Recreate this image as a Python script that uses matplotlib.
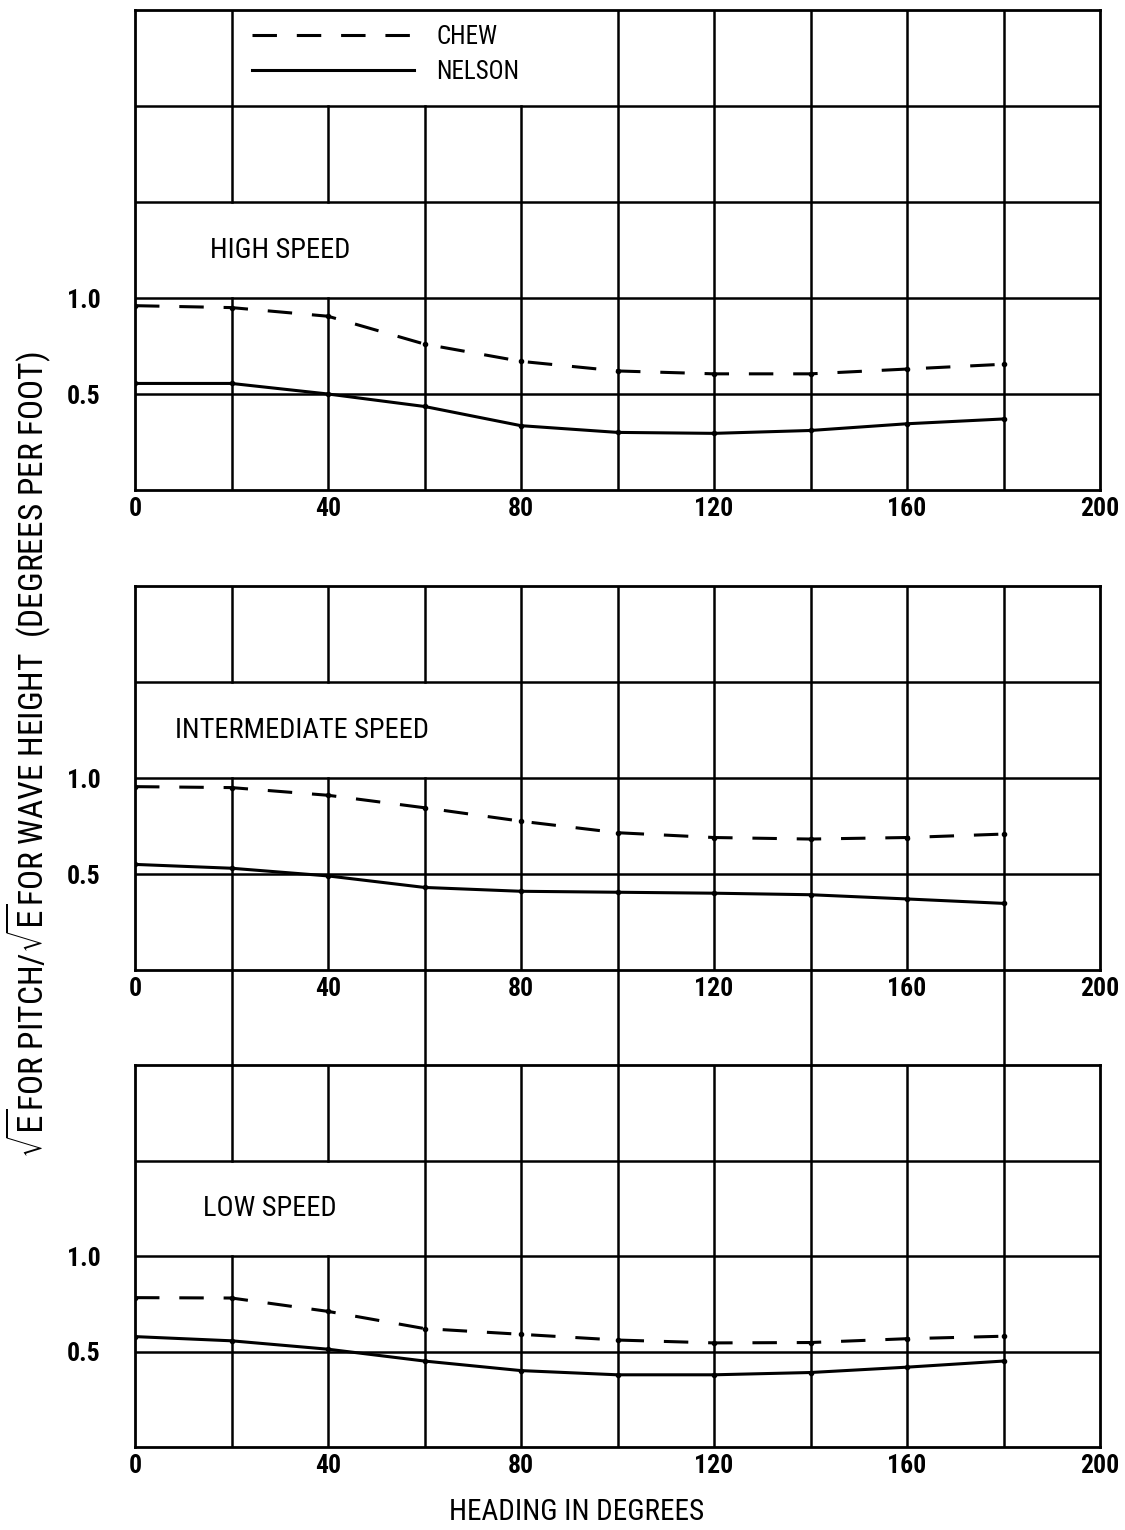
"""
Pitch response ratio against heading for three ship speeds,
Chew vs. Nelson, drawn on a hand-ruled style grid.
"""
import matplotlib
matplotlib.use('Agg')
import matplotlib.pyplot as plt

plt.rcParams['font.family'] = ['Roboto Condensed', 'DejaVu Sans']
plt.rcParams['font.stretch'] = 'condensed'

HEADING = [0, 20, 40, 60, 80, 100, 120, 140, 160, 180]

HIGH_CHEW = [0.96, 0.95, 0.905, 0.76, 0.67, 0.62, 0.605, 0.605, 0.63, 0.655]
HIGH_NELSON = [0.555, 0.555, 0.50, 0.435, 0.335, 0.30, 0.295, 0.31, 0.345, 0.37]

MID_CHEW = [0.955, 0.95, 0.91, 0.845, 0.775, 0.715, 0.69, 0.682, 0.69, 0.708]
MID_NELSON = [0.55, 0.53, 0.49, 0.43, 0.41, 0.405, 0.40, 0.392, 0.37, 0.347]

LOW_CHEW = [0.782, 0.78, 0.71, 0.62, 0.59, 0.56, 0.545, 0.547, 0.567, 0.58]
LOW_NELSON = [0.578, 0.556, 0.512, 0.45, 0.40, 0.378, 0.378, 0.39, 0.418, 0.45]

PANEL_TITLES = ["HIGH SPEED", "INTERMEDIATE SPEED", "LOW SPEED"]
X_TICKS = [0, 40, 80, 120, 160, 200]
Y_TICKS = [0.5, 1.0]

INK = 'black'
GRID_LW = 1.8
CURVE_LW = 2.2
DASH = (8, 6.5)
TITLE_SIZE = 20.5


def draw_grid(ax, top, blanks):
    """Rule the grid; `blanks` maps an x line to y spans left open."""
    for x in range(20, 200, 20):
        y0 = 0.0
        for b0, b1 in sorted(blanks.get(x, [])):
            ax.plot([x, x], [y0, b0], color=INK, lw=GRID_LW, zorder=1)
            y0 = b1
        ax.plot([x, x], [y0, top], color=INK, lw=GRID_LW, zorder=1)
    y = 0.5
    while y < top - 1e-6:
        ax.plot([0, 200], [y, y], color=INK, lw=GRID_LW, zorder=1)
        y += 0.5


def style_axes(ax, top):
    ax.set_xlim(0, 200)
    ax.set_ylim(0, top)
    for sp in ax.spines.values():
        sp.set_color(INK)
        sp.set_linewidth(GRID_LW + 0.2)
    ax.set_xticks(X_TICKS)
    ax.set_yticks(Y_TICKS)
    ax.set_yticklabels(['0.5', '1.0'])
    ax.tick_params(axis='x', length=0, pad=5, labelsize=18.5)
    ax.tick_params(axis='y', length=0, pad=25, labelsize=18.5)
    for lab in ax.get_xticklabels() + ax.get_yticklabels():
        lab.set_fontweight('bold')


def draw_curves(ax, chew, nelson):
    c, = ax.plot(HEADING, chew, color=INK, lw=CURVE_LW, dashes=DASH,
                 marker='o', ms=3, zorder=3)
    n, = ax.plot(HEADING, nelson, color=INK, lw=CURVE_LW,
                 marker='o', ms=3, zorder=3)
    return c, n


fig = plt.figure(figsize=(11.25, 15.3), dpi=100)
left, width = 135 / 1125, 965 / 1125
ax1 = fig.add_axes([left, 1 - 490 / 1530, width, 480 / 1530])
ax2 = fig.add_axes([left, 1 - 970 / 1530, width, 384 / 1530])
ax3 = fig.add_axes([left, 1 - 1447 / 1530, width, 382 / 1530])

# top panel: legend sits in the upper row, label box below it
style_axes(ax1, 2.5)
draw_grid(ax1, 2.5, {20: [(1.0, 1.5)], 40: [(1.0, 1.5), (2.0, 2.5)],
                     60: [(2.0, 2.5)], 80: [(2.0, 2.5)]})
chew_line, nelson_line = draw_curves(ax1, HIGH_CHEW, HIGH_NELSON)
ax1.text(30, 1.25, PANEL_TITLES[0], ha='center', va='center',
         fontsize=TITLE_SIZE)
ax1.legend([chew_line, nelson_line], ['CHEW', 'NELSON'],
           loc='upper left', bbox_to_anchor=(19.5, 2.54),
           bbox_transform=ax1.transData, frameon=False, fontsize=18,
           handlelength=6.5, handletextpad=0.9, labelspacing=0.45)
for h in ax1.get_legend().legend_handles:
    h.set_marker('')

style_axes(ax2, 2.0)
draw_grid(ax2, 2.0, {20: [(1.0, 1.5)], 40: [(1.0, 1.5)], 60: [(1.0, 1.5)]})
draw_curves(ax2, MID_CHEW, MID_NELSON)
ax2.text(8.3, 1.25, PANEL_TITLES[1], ha='left', va='center',
         fontsize=TITLE_SIZE)

style_axes(ax3, 2.0)
draw_grid(ax3, 2.0, {20: [(1.0, 1.5)], 40: [(1.0, 1.5)]})
draw_curves(ax3, LOW_CHEW, LOW_NELSON)
ax3.text(28, 1.25, PANEL_TITLES[2], ha='center', va='center',
         fontsize=TITLE_SIZE)
# ruled lines carried up through the gap to the middle panel
for x in (20, 60, 100, 140, 180):
    ax3.plot([x, x], [2.0, 2.5], color=INK, lw=GRID_LW, clip_on=False)

fig.text(577 / 1125, 1 - 1512 / 1530, 'HEADING IN DEGREES',
         ha='center', va='center', fontsize=21)
fig.text(28 / 1125, 1 - 755 / 1530,
         r'$\sqrt{\mathrm{E}}$FOR PITCH/$\sqrt{\mathrm{E}}$FOR WAVE HEIGHT  (DEGREES PER FOOT)',
         rotation=90, ha='center', va='center', fontsize=24)

fig.savefig('out.png', dpi=100)
